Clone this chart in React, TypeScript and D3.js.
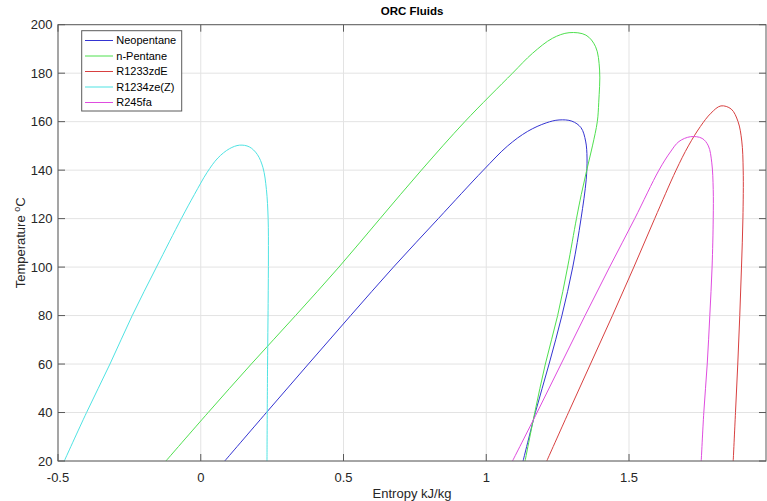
import React from "react";
import * as d3 from "d3";

const fluidNames = ["Neopentane", "n-Pentane", "R1233zdE", "R1234ze(Z)", "R245fa"];
const fluidColors = ["#3434d2", "#4fe04f", "#d84040", "#4fe3e3", "#df4cdf"];

// Entropy (kJ/kg) and Temperature (°C) along each saturation dome
const neopentaneS = [0.084, 0.230, 0.377, 0.525, 0.675, 0.832, 0.990, 1.075, 1.145, 1.210, 1.255, 1.300, 1.332, 1.348, 1.353, 1.350, 1.332, 1.303, 1.265, 1.220, 1.172, 1.129];
const neopentaneT = [20, 40, 60, 80, 100, 120, 140, 150, 156, 159.5, 160.7, 160.2, 157.5, 152, 145, 136, 120, 100, 80, 60, 40, 20];

const nPentaneS = [-0.122, 0.026, 0.177, 0.332, 0.484, 0.628, 0.773, 0.925, 1.092, 1.162, 1.232, 1.290, 1.349, 1.383, 1.397, 1.394, 1.389, 1.372, 1.352, 1.333, 1.316, 1.285, 1.250, 1.207, 1.170, 1.136];
const nPentaneT = [20, 40, 60, 80, 100, 120, 140, 160, 180, 188.2, 194.4, 196.7, 195.7, 190.9, 181.3, 168, 160, 150, 140, 130, 120, 100, 80, 60, 40, 20];

const r1233S = [1.212, 1.288, 1.365, 1.442, 1.517, 1.590, 1.665, 1.708, 1.750, 1.787, 1.822, 1.858, 1.882, 1.895, 1.900, 1.899, 1.894, 1.888, 1.881, 1.873, 1.865];
const r1233T = [20, 40, 60, 80, 100, 120, 140, 150, 158, 163.5, 166.5, 165.2, 160, 152, 140, 120, 100, 80, 60, 40, 20];

const r1234S = [-0.478, -0.400, -0.318, -0.240, -0.155, -0.068, -0.022, 0.022, 0.060, 0.100, 0.136, 0.170, 0.198, 0.218, 0.230, 0.236, 0.237, 0.236, 0.234, 0.232];
const r1234T = [20, 40, 60, 80, 100, 120, 130, 139, 145, 148.8, 150.3, 149.6, 146.5, 141, 132, 120, 105, 85, 60, 20];

const r245S = [1.092, 1.178, 1.262, 1.346, 1.432, 1.520, 1.605, 1.645, 1.675, 1.716, 1.756, 1.778, 1.790, 1.795, 1.795, 1.791, 1.783, 1.774, 1.762, 1.753];
const r245T = [20, 40, 60, 80, 100, 120, 140, 147.5, 151.8, 153.8, 153.1, 150, 143, 132, 120, 100, 80, 60, 40, 20];

const xTicks = [-0.5, 0, 0.5, 1, 1.5];
const xTickLabels = ["-0.5", "0", "0.5", "1", "1.5"];
const yTicks = [20, 40, 60, 80, 100, 120, 140, 160, 180, 200];

const seriesS = [neopentaneS, nPentaneS, r1233S, r1234S, r245S];
const seriesT = [neopentaneT, nPentaneT, r1233T, r1234T, r245T];

export default function App() {
  const W = 767, H = 501;
  const left = 58, right = 766, top = 24.7, bottom = 461;
  const x = d3.scaleLinear().domain([-0.5, -0.5 + (right - left) / 285.5]).range([left, right]);
  const y = d3.scaleLinear().domain([20, 200]).range([bottom, top]);
  const line = d3
    .line<[number, number]>()
    .x((d) => x(d[0]))
    .y((d) => y(d[1]))
    .curve(d3.curveCatmullRom.alpha(0.5));

  const axisColor = "#5a5a5a";
  const textColor = "#262626";
  const font = "'Liberation Sans', Arial, Helvetica, sans-serif";
  const tickLen = 7;

  const legX = 81.7, legY = 30.7, legW = 100, legH = 80.3;

  return (
    <svg width={W} height={H} style={{ position: "absolute", left: 0, top: 0, background: "#fff" }} fontFamily={font}>
      <rect x={0} y={0} width={W} height={H} fill="#fff" />
      {xTicks.map((t) => (
        <line key={"gx" + t} x1={x(t)} x2={x(t)} y1={top} y2={bottom} stroke="#e3e3e3" strokeWidth={1} />
      ))}
      {yTicks.map((t) => (
        <line key={"gy" + t} x1={left} x2={right} y1={y(t)} y2={y(t)} stroke="#e3e3e3" strokeWidth={1} />
      ))}
      {seriesS.map((s, i) => (
        <path
          key={fluidNames[i]}
          d={line(s.map((v, j) => [v, seriesT[i][j]] as [number, number])) || ""}
          fill="none"
          stroke={fluidColors[i]}
          strokeWidth={1}
        />
      ))}
      <rect x={left} y={top} width={right - left} height={bottom - top} fill="none" stroke={axisColor} strokeWidth={1} />
      {xTicks.map((t) => (
        <g key={"tx" + t}>
          <line x1={x(t)} x2={x(t)} y1={bottom} y2={bottom - tickLen} stroke={axisColor} />
          <line x1={x(t)} x2={x(t)} y1={top} y2={top + tickLen} stroke={axisColor} />
        </g>
      ))}
      {yTicks.map((t) => (
        <g key={"ty" + t}>
          <line x1={left} x2={left + tickLen} y1={y(t)} y2={y(t)} stroke={axisColor} />
          <line x1={right} x2={right - tickLen} y1={y(t)} y2={y(t)} stroke={axisColor} />
        </g>
      ))}
      {xTicks.map((t, i) => (
        <text key={"lx" + t} x={x(t)} y={481.5} textAnchor="middle" fontSize={13} fill={textColor}>
          {xTickLabels[i]}
        </text>
      ))}
      {yTicks.map((t) => (
        <text key={"ly" + t} x={52.5} y={y(t)} dy="0.36em" textAnchor="end" fontSize={13} fill={textColor}>
          {t}
        </text>
      ))}
      <text x={(left + right) / 2} y={15} textAnchor="middle" fontSize={11.5} fontWeight="bold" fill="#000">
        ORC Fluids
      </text>
      <text x={(left + right) / 2} y={497.5} textAnchor="middle" fontSize={13} fill={textColor}>
        Entropy kJ/kg
      </text>
      <text transform={`translate(25, ${(top + bottom) / 2}) rotate(-90)`} textAnchor="middle" fontSize={13} fill={textColor}>
        Temperature <tspan fontSize={9} dy="-5">o</tspan>
        <tspan dy="5">C</tspan>
      </text>
      <rect x={legX} y={legY} width={legW} height={legH} fill="#fff" stroke={axisColor} strokeWidth={1} />
      {fluidNames.map((n, i) => {
        const ly = 40.5 + i * 15.5;
        return (
          <g key={"leg" + n}>
            <line x1={85} x2={113} y1={ly} y2={ly} stroke={fluidColors[i]} strokeWidth={1} />
            <text x={116.3} y={ly} dy="0.36em" fontSize={11} fill="#000">
              {n}
            </text>
          </g>
        );
      })}
    </svg>
  );
}
